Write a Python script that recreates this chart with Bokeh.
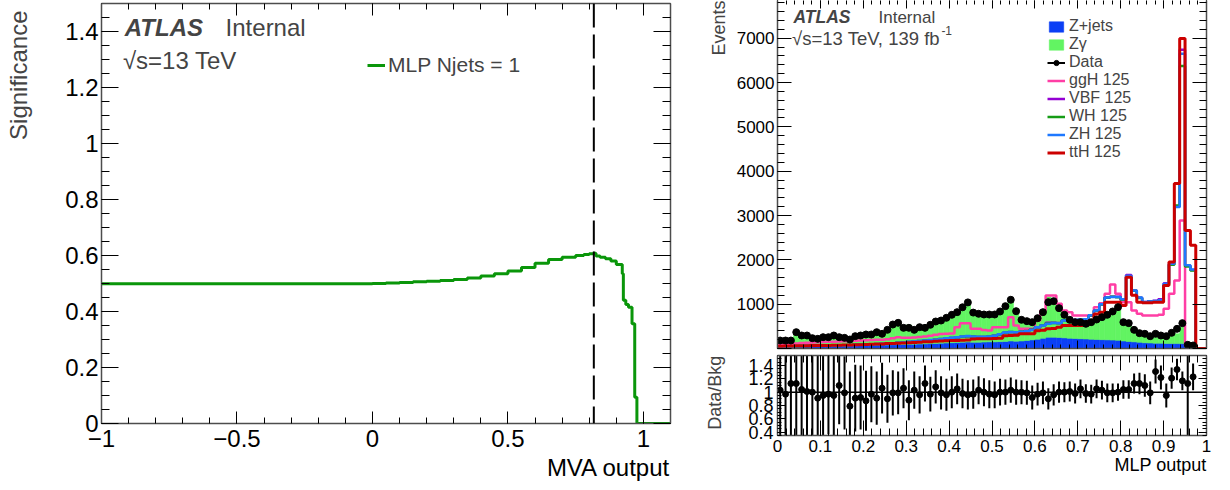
import math
import numpy as np
from bokeh.plotting import figure
from bokeh.layouts import row, column
from bokeh.models import (Range1d, LinearAxis, SingleIntervalTicker, CustomJSTickFormatter,
                          Label, Span, Legend, LegendItem, ColumnDataSource, Title,
                          CustomLabelingPolicy)
from bokeh.embed import file_html
from bokeh.resources import INLINE

FONT = "Liberation Sans"

# ---------------- left panel: significance vs MVA cut ----------------
SIG_X = [-1.0, 0.0, 0.05, 0.10, 0.15, 0.20, 0.25, 0.30, 0.35, 0.40, 0.45, 0.50, 0.55,
         0.60, 0.65, 0.70, 0.75, 0.78, 0.80, 0.815, 0.825, 0.84, 0.86, 0.88, 0.90,
         0.922, 0.926, 0.935, 0.945, 0.958, 0.968, 0.976, 1.1]
SIG_Y = [0.499, 0.500, 0.502, 0.504, 0.506, 0.508, 0.511, 0.514, 0.520, 0.527, 0.535,
         0.545, 0.557, 0.572, 0.586, 0.594, 0.600, 0.604, 0.606, 0.608, 0.598, 0.594,
         0.588, 0.580, 0.568, 0.535, 0.440, 0.425, 0.415, 0.356, 0.094, 0.0, 0.0]
CUT_VALUE = 0.817
LEFT_LEGEND = "MLP Njets = 1"
LEFT_XTITLE = "MVA output"
LEFT_YTITLE = "Significance"

# ---------------- right panel: MLP output distribution ----------------
N_BINS = 80
BIN_EDGES = np.linspace(0.0, 1.0, N_BINS + 1)
BIN_CENTERS = 0.5 * (BIN_EDGES[:-1] + BIN_EDGES[1:])
BIN_WIDTH = 1.0 / N_BINS

DATA = [180, 180, 180, 368, 293, 293, 233, 218, 255, 255,
        293, 255, 240, 203, 278, 293, 316, 316, 368, 331,
        421, 541, 579, 466, 466, 421, 481, 466, 534, 609,
        631, 692, 760, 820, 930, 1040, 810, 783, 767, 767,
        767, 835, 955, 1099, 842, 647, 617, 594, 684, 820,
        1045, 1068, 910, 760, 647, 594, 594, 557, 594, 654,
        707, 760, 835, 933, 594, 572, 421, 346, 331, 278,
        331, 293, 278, 354, 444, 572, 83, 68]

ZJETS = [35, 38, 40, 42, 45, 45, 48, 50, 52, 55,
         55, 58, 60, 62, 65, 68, 70, 72, 75, 78,
         80, 85, 90, 92, 95, 98, 100, 105, 110, 115,
         120, 125, 130, 135, 140, 145, 140, 140, 145, 150,
         150, 155, 160, 170, 165, 170, 180, 195, 210, 230,
         255, 255, 250, 240, 230, 225, 220, 215, 210, 205,
         200, 195, 190, 185, 170, 160, 150, 140, 130, 125,
         120, 120, 115, 115, 110, 110, 35, 25, 0, 0]

ZGAMMA = [140, 148, 119, 284, 237, 245, 185, 190, 216, 208,
          253, 174, 182, 195, 240, 250, 293, 254, 329, 234,
          388, 461, 495, 348, 435, 311, 401, 307, 441, 449,
          517, 596, 630, 646, 809, 938, 695, 620, 622, 641,
          649, 680, 795, 897, 677, 477, 443, 451, 495, 598,
          906, 858, 660, 520, 411, 381, 346, 353, 402, 418,
          486, 573, 653, 748, 401, 390, 223, 166, 171, 156,
          133, 120, 178, 178, 221, 379, 38, 30, 0, 0]

GGH = [80, 90, 100, 115, 125, 130, 135, 140, 145, 150,
       155, 160, 165, 170, 175, 180, 185, 190, 195, 200,
       210, 230, 255, 245, 240, 250, 260, 270, 290, 310,
       325, 331, 340, 481, 571, 571, 444, 444, 420, 406,
       481, 481, 481, 707, 519, 444, 444, 444, 632, 858,
       1196, 1196, 1008, 858, 820, 745, 745, 745, 737, 933,
       1023, 1234, 1444, 1234, 1045, 1045, 858, 783, 745, 745,
       745, 760, 896, 1234, 1535, 2889, 60, 40, 0, 0]

VBF = [42, 46, 48, 50, 53, 56, 58, 60, 63, 66,
       68, 70, 73, 76, 80, 83, 86, 90, 96, 100,
       106, 116, 126, 136, 146, 156, 166, 176, 186, 196,
       210, 224, 236, 250, 264, 274, 266, 260, 260, 266,
       286, 316, 356, 368, 362, 376, 390, 422, 476, 522,
       580, 582, 575, 632, 638, 642, 650, 658, 748, 855,
       995, 1150, 1170, 1165, 1105, 1660, 1310, 1145, 1050, 1065,
       1075, 1110, 1470, 1900, 3200, 6740, 1870, 1770, 0, 0]

WH = [45, 48, 50, 52, 55, 58, 60, 62, 65, 68,
      70, 72, 75, 78, 82, 85, 88, 92, 98, 102,
      108, 118, 128, 138, 148, 158, 168, 178, 188, 198,
      212, 226, 238, 252, 266, 276, 268, 262, 262, 268,
      288, 318, 358, 372, 366, 378, 392, 425, 478, 525,
      565, 578, 572, 635, 640, 640, 648, 655, 745, 850,
      990, 1145, 1165, 1155, 1100, 1620, 1300, 1140, 1045, 1055,
      1065, 1080, 1440, 1890, 3227, 6370, 1850, 1760, 0, 0]

ZH = [45, 50, 50, 55, 55, 60, 60, 65, 65, 70,
      70, 75, 75, 80, 85, 85, 90, 95, 100, 105,
      110, 120, 130, 140, 150, 160, 170, 180, 190, 200,
      215, 230, 240, 255, 270, 280, 270, 265, 265, 270,
      290, 320, 360, 370, 365, 380, 390, 420, 480, 520,
      560, 575, 570, 630, 640, 645, 650, 660, 750, 860,
      1000, 1150, 1160, 1160, 1110, 1640, 1310, 1150, 1050, 1060,
      1070, 1090, 1460, 1910, 3190, 6650, 1880, 1780, 0, 0]

TTH = [50, 55, 55, 60, 60, 60, 65, 65, 70, 70,
       75, 75, 80, 80, 85, 85, 90, 95, 100, 100,
       110, 115, 120, 125, 130, 135, 140, 150, 155, 165,
       170, 175, 180, 180, 185, 190, 215, 218, 220, 220,
       225, 230, 290, 295, 300, 330, 330, 335, 400, 410,
       444, 450, 480, 520, 520, 520, 520, 525, 630, 780,
       820, 1045, 1045, 1045, 970, 1610, 1200, 1045, 1030, 1030,
       1045, 1045, 1420, 1950, 3720, 6990, 2660, 2330, 0, 0]

RATIO = [1.03, 0.97, 1.13, 1.13, 1.04, 1.01, 1.00, 0.91, 0.95, 0.97,
         0.95, 1.10, 0.99, 0.79, 0.91, 0.92, 0.87, 0.97, 0.91, 1.06,
         0.90, 0.99, 0.99, 1.06, 0.88, 1.03, 0.96, 1.13, 0.97, 1.08,
         0.99, 0.96, 1.00, 1.05, 0.98, 0.96, 0.97, 1.03, 1.00, 0.97,
         0.96, 1.00, 1.00, 1.03, 1.00, 1.00, 0.99, 0.92, 0.97, 0.99,
         0.90, 0.96, 1.00, 1.00, 1.01, 0.98, 1.05, 0.98, 0.97, 1.05,
         1.03, 0.99, 0.99, 1.00, 1.04, 1.04, 1.13, 1.13, 1.10, 0.99,
         1.31, 1.22, 0.95, 1.21, 1.34, 1.17, 1.13, 1.23]

RATIO_ERR = [0.90, 0.85, 0.80, 0.80, 0.75, 0.70, 0.70, 0.65, 0.65, 0.60,
             0.60, 0.58, 0.55, 0.52, 0.50, 0.48, 0.45, 0.42, 0.40, 0.38,
             0.36, 0.34, 0.32, 0.30, 0.30, 0.28, 0.28, 0.27, 0.26, 0.25,
             0.25, 0.24, 0.24, 0.23, 0.22, 0.22, 0.22, 0.21, 0.21, 0.21,
             0.20, 0.20, 0.19, 0.19, 0.19, 0.18, 0.18, 0.18, 0.17, 0.17,
             0.16, 0.16, 0.16, 0.15, 0.15, 0.15, 0.14, 0.14, 0.14, 0.14,
             0.14, 0.14, 0.14, 0.13, 0.14, 0.14, 0.15, 0.16, 0.17, 0.17,
             0.18, 0.18, 0.18, 0.16, 0.16, 0.14, 1.00, 0.20]

LEGEND_LABELS = ["Z+jets", "Z\u03b3", "Data", "ggH 125", "VBF 125", "WH 125", "ZH 125", "ttH 125"]
RIGHT_YTITLE = "Events"
RATIO_YTITLE = "Data/Bkg"
RIGHT_XTITLE = "MLP output"

C_ZJ = "#0b3ff5"
C_ZG = "#62f462"
C_GGH = "#ff3ea5"
C_VBF = "#9400d3"
C_WH = "#169c16"
C_ZH = "#1e78ff"
C_TTH = "#cc0000"
C_SIG = "#0a960a"

NUM_FMT_CODE = r"""
if (Math.abs(tick) < 1e-9) return '0';
let s = tick.toFixed(2).replace(/\.?0+$/, '');
return s.replace('-', '\u2212');
"""
EVT_FMT_CODE = r"""
if (Math.abs(tick) < 1e-9) return '';
return tick.toFixed(0);
"""
NO_LABELS_CODE = r"""
try { return new indices.constructor(indices.size, 0); } catch (e) { return indices; }
"""


def style_axis(ax, major_in, minor_in, font_size=None, standoff=3):
    ax.major_tick_in = major_in
    ax.major_tick_out = 0
    ax.minor_tick_in = minor_in
    ax.minor_tick_out = 0
    ax.major_tick_line_color = "black"
    ax.minor_tick_line_color = "black"
    ax.major_tick_line_width = 1
    ax.minor_tick_line_width = 1
    ax.axis_line_color = "#4d4d4d"
    ax.axis_line_width = 1.5
    ax.major_label_text_font = FONT
    ax.major_label_text_color = "black"
    if font_size is None:
        ax.major_label_text_font_size = "0px"
        ax.major_label_standoff = 0
        ax.major_label_policy = CustomLabelingPolicy(code=NO_LABELS_CODE)
    else:
        ax.major_label_text_font_size = font_size
        ax.major_label_standoff = standoff


def add_title(p, text, side, size, standoff, align, offset=0):
    t = Title(text=text, align=align, standoff=standoff, offset=offset,
              text_font=FONT, text_font_size=size, text_font_style="normal",
              text_color="black")
    p.add_layout(t, side)
    return t


def add_axes(p, xtick, ytick, xfmt, yfmt, x_in, x_min_in, y_in, y_min_in,
             xfont=None, yfont=None, xstand=3, ystand=3):
    axes = {}
    for loc, labelled in (("below", True), ("above", False)):
        ax = LinearAxis(ticker=xtick, formatter=xfmt)
        style_axis(ax, x_in, x_min_in, xfont if labelled else None, xstand)
        p.add_layout(ax, loc)
        axes[loc] = ax
    for loc, labelled in (("left", True), ("right", False)):
        ax = LinearAxis(ticker=ytick, formatter=yfmt)
        style_axis(ax, y_in, y_min_in, yfont if labelled else None, ystand)
        p.add_layout(ax, loc)
        axes[loc] = ax
    return axes


def base_fig(w, h, xr, yr, bl, br, bt, bb):
    p = figure(width=w, height=h, x_range=xr, y_range=yr, output_backend="svg",
               toolbar_location=None, x_axis_location=None, y_axis_location=None,
               min_border_left=bl, min_border_right=br, min_border_top=bt,
               min_border_bottom=bb)
    p.grid.visible = False
    p.outline_line_color = None
    p.background_fill_color = "white"
    p.border_fill_color = "white"
    return p


def strip_fig(w, h, y0, y1):
    # narrow text-only strip that shares the vertical scale of its neighbour panel
    return base_fig(w, h, Range1d(0, w), Range1d(y0, y1), 0, 0, 0, 0)


def vlabel(p, x, y, text, size):
    # vertical title reading bottom-to-top; (x, y) is the middle of its top end
    p.add_layout(Label(x=x, y=y, text=text, text_font=FONT, text_font_size=size,
                       angle=math.pi / 2, text_align="right", text_baseline="middle"))


# ================= left title strip =================
sl = strip_fig(40, 490, 0, 1.5)
vlabel(sl, 17.5, 1.475, LEFT_YTITLE, "24px")

# ================= left figure =================
pl = base_fig(660, 490, Range1d(-1, 1.1), Range1d(0, 1.5), 61, 30, 3, 67)
axl = add_axes(pl,
               SingleIntervalTicker(interval=0.5, num_minor_ticks=5),
               SingleIntervalTicker(interval=0.2, num_minor_ticks=4),
               CustomJSTickFormatter(code=NUM_FMT_CODE), CustomJSTickFormatter(code=NUM_FMT_CODE),
               12, 6, 17, 8, xfont="24px", yfont="24px", xstand=6, ystand=3)
add_title(pl, LEFT_XTITLE, "below", "24px", 4, "right")

sig_r = pl.step(x=SIG_X, y=SIG_Y, mode="after", line_color=C_SIG, line_width=3)
pl.add_layout(Span(location=CUT_VALUE, dimension="height", line_color="black",
                   line_width=2, line_dash="24 7"))

leg_l = Legend(items=[LegendItem(label=LEFT_LEGEND, renderers=[sig_r])],
               location=(266, 346), padding=0, margin=0, spacing=0,
               glyph_width=18, glyph_height=22, label_height=22, label_standoff=3,
               label_text_font=FONT, label_text_font_size="21px",
               border_line_color=None, background_fill_alpha=0)
pl.add_layout(leg_l)

pl.add_layout(Label(x=-0.914, y=1.4154, text="ATLAS", text_font=FONT,
                    text_font_size="24px", text_font_style="bold italic",
                    text_baseline="alphabetic"))
pl.add_layout(Label(x=-0.542, y=1.4154, text="Internal", text_font=FONT,
                    text_font_size="24px", text_baseline="alphabetic"))
pl.add_layout(Label(x=-0.921, y=1.2964, text="\u221as=13 TeV", text_font=FONT,
                    text_font_size="24px", text_baseline="alphabetic"))

# ================= right top figure + title strip =================
srt = strip_fig(30, 352, 0, 7850)
vlabel(srt, 18.5, 7850, RIGHT_YTITLE, "18px")

pt = base_fig(500, 352, Range1d(0, 1), Range1d(0, 7850), 47, 24, 0, 4)
axt = add_axes(pt,
               SingleIntervalTicker(interval=0.1, num_minor_ticks=5),
               SingleIntervalTicker(interval=1000, num_minor_ticks=5),
               CustomJSTickFormatter(code=NUM_FMT_CODE), CustomJSTickFormatter(code=EVT_FMT_CODE),
               8, 4, 14, 7, xfont=None, yfont="17px", ystand=3)
axt["above"].axis_line_color = None

src = ColumnDataSource(dict(center=BIN_CENTERS, zjets=ZJETS, zgam=ZGAMMA))
stack_r = pt.vbar_stack(["zjets", "zgam"], x="center", width=BIN_WIDTH, source=src,
                        fill_color=[C_ZJ, C_ZG], line_color=[C_ZJ, C_ZG], line_width=0.6)


def step_vals(vals):
    return list(vals) + [vals[-1]]


sig_renderers = []
for vals, col, lw in ((GGH, C_GGH, 2.5), (VBF, C_VBF, 2.5), (WH, C_WH, 2.5),
                      (ZH, C_ZH, 2.5), (TTH, C_TTH, 3)):
    sig_renderers.append(pt.step(x=BIN_EDGES, y=step_vals(vals), mode="after",
                                 line_color=col, line_width=lw))

n_data = len(DATA)
data_x = BIN_CENTERS[:n_data]
data_err = np.sqrt(np.array(DATA, dtype=float))
derr_r = pt.segment(x0=data_x, y0=np.array(DATA) - data_err, x1=data_x,
                    y1=np.array(DATA) + data_err, line_color="black", line_width=2)
dpt_r = pt.scatter(x=data_x, y=DATA, size=7, marker="circle", fill_color="black",
                   line_color="black")

items = [LegendItem(label=LEGEND_LABELS[0], renderers=[stack_r[0]]),
         LegendItem(label=LEGEND_LABELS[1], renderers=[stack_r[1]]),
         LegendItem(label=LEGEND_LABELS[2], renderers=[derr_r, dpt_r])]
for lab, r in zip(LEGEND_LABELS[3:], sig_renderers):
    items.append(LegendItem(label=lab, renderers=[r]))
leg_r = Legend(items=items, location=(270, 187), padding=0, margin=0, spacing=0,
               glyph_width=18, glyph_height=13, label_height=17, label_standoff=4,
               label_text_font=FONT, label_text_font_size="16px",
               border_line_color=None, background_fill_alpha=0)
pt.add_layout(leg_r)

pt.add_layout(Label(x=0.0373, y=7473, text="ATLAS", text_font=FONT,
                    text_font_size="17.5px", text_font_style="bold italic",
                    text_baseline="alphabetic"))
pt.add_layout(Label(x=0.2354, y=7473, text="Internal", text_font=FONT,
                    text_font_size="17px", text_baseline="alphabetic"))
pt.add_layout(Label(x=0.034, y=6993, text="\u221as=13 TeV, 139 fb", text_font=FONT,
                    text_font_size="18.5px", text_baseline="alphabetic"))
pt.add_layout(Label(x=0.382, y=7173, text="-1", text_font=FONT, text_font_size="12px",
                    text_baseline="alphabetic"))

# ================= right bottom (ratio) figure + title strip =================
srb = strip_fig(30, 138, 0.35, 1.55)
vlabel(srb, 14.5, 1.545, RATIO_YTITLE, "18px")

pb = base_fig(500, 138, Range1d(0, 1), Range1d(0.35, 1.55), 47, 24, 3, 55)
axb = add_axes(pb,
               SingleIntervalTicker(interval=0.1, num_minor_ticks=5),
               SingleIntervalTicker(interval=0.2, num_minor_ticks=4),
               CustomJSTickFormatter(code=NUM_FMT_CODE), CustomJSTickFormatter(code=NUM_FMT_CODE),
               15, 7, 8, 4, xfont="17px", yfont="18px", xstand=4, ystand=4)
add_title(pb, RIGHT_XTITLE, "below", "18px", -4, "right")

pb.add_layout(Span(location=1.0, dimension="width", line_color="black", line_width=1.5))
r_arr = np.array(RATIO)
e_arr = np.array(RATIO_ERR)
pb.segment(x0=data_x, y0=r_arr - e_arr, x1=data_x, y1=r_arr + e_arr,
           line_color="black", line_width=2)
pb.scatter(x=data_x, y=RATIO, size=6, marker="circle", fill_color="black",
           line_color="black")

right_side = column(row(srt, pt, spacing=0), row(srb, pb, spacing=0), spacing=0)
layout = row(sl, pl, right_side, spacing=0)
open("out.html", "w").write(file_html(layout, INLINE))
